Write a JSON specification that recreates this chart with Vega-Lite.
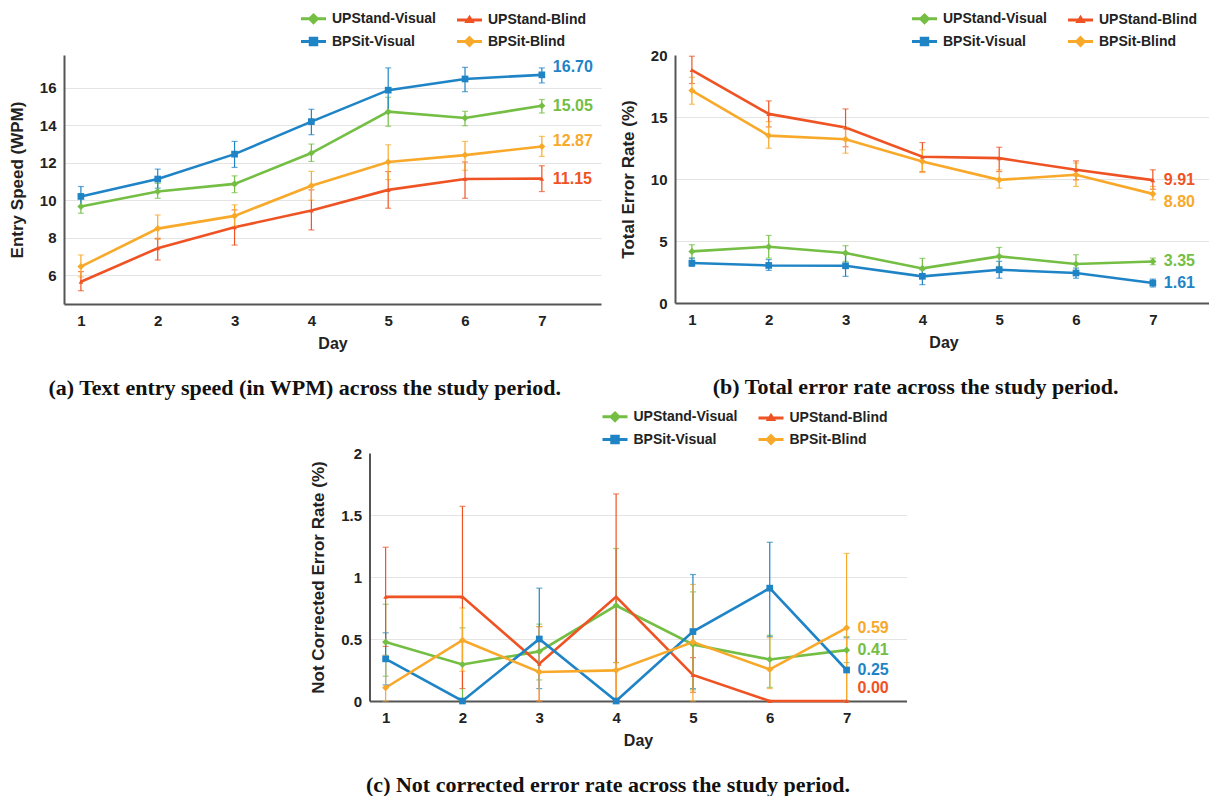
{
  "$schema": "https://vega.github.io/schema/vega-lite/v6.json",
  "padding": {"left": 8, "top": 8, "right": 0, "bottom": 0},
  "background": "white",
  "config": {
    "view": {"stroke": null},
    "font": "Liberation Sans",
    "axis": {"labelFont": "Liberation Sans", "labelFontWeight": "bold", "labelFontSize": 15, "labelColor": "#222", "titleFont": "Liberation Sans", "titleFontWeight": "bold", "titleFontSize": 16, "titleColor": "#222", "ticks": false, "domainColor": "#555", "domainWidth": 2, "gridColor": "#e4e4e4", "gridWidth": 1.2},
    "axisX": {"grid": false, "labelPadding": 9, "titlePadding": 7, "labelAngle": 0},
    "axisY": {"labelPadding": 8, "titlePadding": 13, "titleFontSize": 17},
    "legend": {"orient": "none", "legendX": 239, "legendY": -47, "columns": 2, "labelFont": "Liberation Sans", "labelFontWeight": "bold", "labelFontSize": 14, "labelColor": "#222", "symbolSize": 324, "labelOffset": 8, "columnPadding": 14, "rowPadding": 2, "padding": 0, "title": null},
    "title": {"font": "Liberation Serif", "fontSize": 22, "fontWeight": "bold", "color": "#111", "orient": "bottom", "anchor": "middle", "frame": "bounds", "offset": 27}
  },
  "datasets": {
    "a": [
      {"series": "UPStand-Visual", "day": 1, "mean": 9.66, "lo": 9.30, "hi": 10.25},
      {"series": "UPStand-Visual", "day": 2, "mean": 10.46, "lo": 10.10, "hi": 10.90},
      {"series": "UPStand-Visual", "day": 3, "mean": 10.87, "lo": 10.40, "hi": 11.30},
      {"series": "UPStand-Visual", "day": 4, "mean": 12.52, "lo": 12.07, "hi": 13.00},
      {"series": "UPStand-Visual", "day": 5, "mean": 14.73, "lo": 13.95, "hi": 15.50},
      {"series": "UPStand-Visual", "day": 6, "mean": 14.39, "lo": 13.98, "hi": 14.75},
      {"series": "UPStand-Visual", "day": 7, "mean": 15.05, "lo": 14.66, "hi": 15.38},
      {"series": "UPStand-Blind", "day": 1, "mean": 5.64, "lo": 5.16, "hi": 6.18},
      {"series": "UPStand-Blind", "day": 2, "mean": 7.43, "lo": 6.80, "hi": 7.96},
      {"series": "UPStand-Blind", "day": 3, "mean": 8.55, "lo": 7.60, "hi": 9.48},
      {"series": "UPStand-Blind", "day": 4, "mean": 9.45, "lo": 8.41, "hi": 10.55},
      {"series": "UPStand-Blind", "day": 5, "mean": 10.55, "lo": 9.57, "hi": 11.53},
      {"series": "UPStand-Blind", "day": 6, "mean": 11.13, "lo": 10.10, "hi": 12.04},
      {"series": "UPStand-Blind", "day": 7, "mean": 11.15, "lo": 10.46, "hi": 11.84},
      {"series": "BPSit-Visual", "day": 1, "mean": 10.20, "lo": 9.66, "hi": 10.73},
      {"series": "BPSit-Visual", "day": 2, "mean": 11.13, "lo": 10.64, "hi": 11.66},
      {"series": "BPSit-Visual", "day": 3, "mean": 12.46, "lo": 11.75, "hi": 13.14},
      {"series": "BPSit-Visual", "day": 4, "mean": 14.20, "lo": 13.50, "hi": 14.86},
      {"series": "BPSit-Visual", "day": 5, "mean": 15.88, "lo": 14.70, "hi": 17.07},
      {"series": "BPSit-Visual", "day": 6, "mean": 16.48, "lo": 15.80, "hi": 17.10},
      {"series": "BPSit-Visual", "day": 7, "mean": 16.70, "lo": 16.27, "hi": 17.07},
      {"series": "BPSit-Blind", "day": 1, "mean": 6.45, "lo": 5.90, "hi": 7.07},
      {"series": "BPSit-Blind", "day": 2, "mean": 8.48, "lo": 7.90, "hi": 9.21},
      {"series": "BPSit-Blind", "day": 3, "mean": 9.16, "lo": 8.60, "hi": 9.75},
      {"series": "BPSit-Blind", "day": 4, "mean": 10.77, "lo": 10.00, "hi": 11.54},
      {"series": "BPSit-Blind", "day": 5, "mean": 12.04, "lo": 11.10, "hi": 12.96},
      {"series": "BPSit-Blind", "day": 6, "mean": 12.41, "lo": 11.60, "hi": 13.14},
      {"series": "BPSit-Blind", "day": 7, "mean": 12.87, "lo": 12.34, "hi": 13.41}
    ],
    "b": [
      {"series": "UPStand-Visual", "day": 1, "mean": 4.16, "lo": 3.62, "hi": 4.70},
      {"series": "UPStand-Visual", "day": 2, "mean": 4.54, "lo": 3.62, "hi": 5.45},
      {"series": "UPStand-Visual", "day": 3, "mean": 4.03, "lo": 3.36, "hi": 4.62},
      {"series": "UPStand-Visual", "day": 4, "mean": 2.79, "lo": 2.15, "hi": 3.60},
      {"series": "UPStand-Visual", "day": 5, "mean": 3.76, "lo": 2.95, "hi": 4.48},
      {"series": "UPStand-Visual", "day": 6, "mean": 3.14, "lo": 2.42, "hi": 3.89},
      {"series": "UPStand-Visual", "day": 7, "mean": 3.35, "lo": 3.09, "hi": 3.62},
      {"series": "UPStand-Blind", "day": 1, "mean": 18.79, "lo": 17.70, "hi": 19.90},
      {"series": "UPStand-Blind", "day": 2, "mean": 15.25, "lo": 14.20, "hi": 16.30},
      {"series": "UPStand-Blind", "day": 3, "mean": 14.15, "lo": 12.60, "hi": 15.65},
      {"series": "UPStand-Blind", "day": 4, "mean": 11.80, "lo": 10.60, "hi": 12.94},
      {"series": "UPStand-Blind", "day": 5, "mean": 11.68, "lo": 10.60, "hi": 12.56},
      {"series": "UPStand-Blind", "day": 6, "mean": 10.74, "lo": 9.93, "hi": 11.46},
      {"series": "UPStand-Blind", "day": 7, "mean": 9.91, "lo": 9.18, "hi": 10.74},
      {"series": "BPSit-Visual", "day": 1, "mean": 3.22, "lo": 2.95, "hi": 3.62},
      {"series": "BPSit-Visual", "day": 2, "mean": 3.03, "lo": 2.63, "hi": 3.50},
      {"series": "BPSit-Visual", "day": 3, "mean": 3.00, "lo": 2.15, "hi": 4.03},
      {"series": "BPSit-Visual", "day": 4, "mean": 2.15, "lo": 1.48, "hi": 2.68},
      {"series": "BPSit-Visual", "day": 5, "mean": 2.68, "lo": 2.00, "hi": 3.36},
      {"series": "BPSit-Visual", "day": 6, "mean": 2.42, "lo": 2.00, "hi": 2.82},
      {"series": "BPSit-Visual", "day": 7, "mean": 1.61, "lo": 1.29, "hi": 1.93},
      {"series": "BPSit-Blind", "day": 1, "mean": 17.13, "lo": 16.03, "hi": 18.20},
      {"series": "BPSit-Blind", "day": 2, "mean": 13.50, "lo": 12.48, "hi": 14.63},
      {"series": "BPSit-Blind", "day": 3, "mean": 13.20, "lo": 12.08, "hi": 14.15},
      {"series": "BPSit-Blind", "day": 4, "mean": 11.41, "lo": 10.52, "hi": 12.35},
      {"series": "BPSit-Blind", "day": 5, "mean": 9.93, "lo": 9.26, "hi": 10.74},
      {"series": "BPSit-Blind", "day": 6, "mean": 10.34, "lo": 9.40, "hi": 11.28},
      {"series": "BPSit-Blind", "day": 7, "mean": 8.80, "lo": 8.32, "hi": 9.40}
    ],
    "c": [
      {"series": "UPStand-Visual", "day": 1, "mean": 0.475, "lo": 0.20, "hi": 0.78},
      {"series": "UPStand-Visual", "day": 2, "mean": 0.295, "lo": 0.01, "hi": 0.59},
      {"series": "UPStand-Visual", "day": 3, "mean": 0.40, "lo": 0.17, "hi": 0.62},
      {"series": "UPStand-Visual", "day": 4, "mean": 0.77, "lo": 0.31, "hi": 1.23},
      {"series": "UPStand-Visual", "day": 5, "mean": 0.456, "lo": 0.09, "hi": 0.88},
      {"series": "UPStand-Visual", "day": 6, "mean": 0.335, "lo": 0.11, "hi": 0.53},
      {"series": "UPStand-Visual", "day": 7, "mean": 0.41, "lo": 0.31, "hi": 0.52},
      {"series": "UPStand-Blind", "day": 1, "mean": 0.84, "lo": 0.44, "hi": 1.24},
      {"series": "UPStand-Blind", "day": 2, "mean": 0.84, "lo": 0.10, "hi": 1.57},
      {"series": "UPStand-Blind", "day": 3, "mean": 0.30, "lo": 0.00, "hi": 0.60},
      {"series": "UPStand-Blind", "day": 4, "mean": 0.84, "lo": 0.00, "hi": 1.67},
      {"series": "UPStand-Blind", "day": 5, "mean": 0.21, "lo": 0.07, "hi": 0.35},
      {"series": "UPStand-Blind", "day": 6, "mean": 0.0, "lo": 0.0, "hi": 0.0},
      {"series": "UPStand-Blind", "day": 7, "mean": 0.0, "lo": 0.0, "hi": 0.0},
      {"series": "BPSit-Visual", "day": 1, "mean": 0.34, "lo": 0.13, "hi": 0.55},
      {"series": "BPSit-Visual", "day": 2, "mean": 0.0, "lo": 0.0, "hi": 0.0},
      {"series": "BPSit-Visual", "day": 3, "mean": 0.50, "lo": 0.10, "hi": 0.91},
      {"series": "BPSit-Visual", "day": 4, "mean": 0.0, "lo": 0.0, "hi": 0.0},
      {"series": "BPSit-Visual", "day": 5, "mean": 0.56, "lo": 0.10, "hi": 1.02},
      {"series": "BPSit-Visual", "day": 6, "mean": 0.91, "lo": 0.52, "hi": 1.28},
      {"series": "BPSit-Visual", "day": 7, "mean": 0.25, "lo": 0.00, "hi": 0.51},
      {"series": "BPSit-Blind", "day": 1, "mean": 0.107, "lo": 0.00, "hi": 0.37},
      {"series": "BPSit-Blind", "day": 2, "mean": 0.49, "lo": 0.24, "hi": 0.75},
      {"series": "BPSit-Blind", "day": 3, "mean": 0.234, "lo": 0.00, "hi": 0.60},
      {"series": "BPSit-Blind", "day": 4, "mean": 0.247, "lo": 0.00, "hi": 0.31},
      {"series": "BPSit-Blind", "day": 5, "mean": 0.475, "lo": 0.00, "hi": 0.94},
      {"series": "BPSit-Blind", "day": 6, "mean": 0.255, "lo": 0.10, "hi": 0.51},
      {"series": "BPSit-Blind", "day": 7, "mean": 0.59, "lo": 0.00, "hi": 1.19}
    ]
  },
  "vconcat": [
    {
      "hconcat": [
        {
          "width": 537, "height": 249,
          "data": {"name": "a"},
          "title": {"text": "(a) Text entry speed (in WPM) across the study period."},
          "encoding": {
            "x": {"field": "day", "type": "quantitative", "scale": {"domain": [0.78, 7.77], "nice": false, "zero": false}, "axis": {"values": [1, 2, 3, 4, 5, 6, 7], "format": "d", "title": "Day"}},
            "y": {"field": "mean", "type": "quantitative", "scale": {"domain": [4.45, 17.76], "nice": false, "zero": false}, "axis": {"values": [6, 8, 10, 12, 14, 16], "title": "Entry Speed (WPM)"}},
            "color": {"field": "series", "type": "nominal", "scale": {"domain": ["UPStand-Visual", "BPSit-Visual", "UPStand-Blind", "BPSit-Blind"], "range": ["#74BE44", "#1F84C6", "#EF5323", "#F8A92A"]},
              "legend": {"encode": {"symbols": {"update": {
                "shape": {"signal": "datum.value === 'BPSit-Visual' ? 'M-1.39,0H1.39M-0.36,-0.36H0.36V0.36H-0.36Z' : datum.value === 'UPStand-Blind' ? 'M-1.39,0H1.39M0,-0.28L0.28,0.17L-0.28,0.17Z' : 'M-1.39,0H1.39M0,-0.42L0.42,0L0,0.42L-0.42,0Z'"},
                "fill": {"signal": "datum.value === 'UPStand-Visual' ? '#74BE44' : datum.value === 'UPStand-Blind' ? '#EF5323' : datum.value === 'BPSit-Visual' ? '#1F84C6' : '#F8A92A'"},
                "stroke": {"signal": "datum.value === 'UPStand-Visual' ? '#74BE44' : datum.value === 'UPStand-Blind' ? '#EF5323' : datum.value === 'BPSit-Visual' ? '#1F84C6' : '#F8A92A'"},
                "strokeWidth": {"value": 3}, "opacity": {"value": 1}, "fillOpacity": {"value": 1}, "strokeOpacity": {"value": 1}}}}}}
          },
          "layer": [
            {"mark": {"type": "line", "strokeWidth": 2.6}},
            {"mark": {"type": "errorbar", "ticks": {"size": 6}, "thickness": 1.2}, "encoding": {"y": {"field": "lo", "type": "quantitative"}, "y2": {"field": "hi"}}},
            {"transform": [{"filter": "datum.series === 'UPStand-Visual' || datum.series === 'BPSit-Blind'"}], "mark": {"type": "point", "shape": "diamond", "filled": true, "opacity": 1, "size": 50}},
            {"transform": [{"filter": "datum.series === 'BPSit-Visual'"}], "mark": {"type": "point", "shape": "square", "filled": true, "opacity": 1, "size": 45}},
            {"transform": [{"filter": "datum.series === 'UPStand-Blind'"}], "mark": {"type": "point", "shape": "triangle-up", "filled": true, "opacity": 1, "size": 22}},
            {"transform": [{"filter": "datum.day === 7 && (datum.series === 'UPStand-Visual' || datum.series === 'UPStand-Blind')"}], "mark": {"type": "text", "align": "left", "baseline": "middle", "dx": 11, "fontSize": 16, "fontWeight": "bold", "font": "Liberation Sans"}, "encoding": {"text": {"field": "mean", "type": "quantitative", "format": ".2f"}}},
            {"transform": [{"filter": "datum.day === 7 && datum.series === 'BPSit-Visual'"}], "mark": {"type": "text", "align": "left", "baseline": "middle", "dx": 11, "dy": -8, "fontSize": 16, "fontWeight": "bold", "font": "Liberation Sans"}, "encoding": {"text": {"field": "mean", "type": "quantitative", "format": ".2f"}}},
            {"transform": [{"filter": "datum.day === 7 && datum.series === 'BPSit-Blind'"}], "mark": {"type": "text", "align": "left", "baseline": "middle", "dx": 11, "dy": -5, "fontSize": 16, "fontWeight": "bold", "font": "Liberation Sans"}, "encoding": {"text": {"field": "mean", "type": "quantitative", "format": ".2f"}}}
          ]
        },
        {
          "width": 537, "height": 248,
          "data": {"name": "b"},
          "title": {"text": "(b) Total error rate across the study period."},
          "encoding": {
            "x": {"field": "day", "type": "quantitative", "scale": {"domain": [0.78, 7.77], "nice": false, "zero": false}, "axis": {"values": [1, 2, 3, 4, 5, 6, 7], "format": "d", "title": "Day"}},
            "y": {"field": "mean", "type": "quantitative", "scale": {"domain": [0, 20], "nice": false, "zero": false}, "axis": {"values": [0, 5, 10, 15, 20], "title": "Total Error Rate (%)", "gridOpacity": {"condition": {"test": "datum.value === 20", "value": 0}, "value": 1}}},
            "color": {"field": "series", "type": "nominal", "scale": {"domain": ["UPStand-Visual", "BPSit-Visual", "UPStand-Blind", "BPSit-Blind"], "range": ["#74BE44", "#1F84C6", "#EF5323", "#F8A92A"]},
              "legend": {"encode": {"symbols": {"update": {
                "shape": {"signal": "datum.value === 'BPSit-Visual' ? 'M-1.39,0H1.39M-0.36,-0.36H0.36V0.36H-0.36Z' : datum.value === 'UPStand-Blind' ? 'M-1.39,0H1.39M0,-0.28L0.28,0.17L-0.28,0.17Z' : 'M-1.39,0H1.39M0,-0.42L0.42,0L0,0.42L-0.42,0Z'"},
                "fill": {"signal": "datum.value === 'UPStand-Visual' ? '#74BE44' : datum.value === 'UPStand-Blind' ? '#EF5323' : datum.value === 'BPSit-Visual' ? '#1F84C6' : '#F8A92A'"},
                "stroke": {"signal": "datum.value === 'UPStand-Visual' ? '#74BE44' : datum.value === 'UPStand-Blind' ? '#EF5323' : datum.value === 'BPSit-Visual' ? '#1F84C6' : '#F8A92A'"},
                "strokeWidth": {"value": 3}, "opacity": {"value": 1}, "fillOpacity": {"value": 1}, "strokeOpacity": {"value": 1}}}}}}
          },
          "layer": [
            {"mark": {"type": "line", "strokeWidth": 2.6}},
            {"mark": {"type": "errorbar", "ticks": {"size": 6}, "thickness": 1.2}, "encoding": {"y": {"field": "lo", "type": "quantitative"}, "y2": {"field": "hi"}}},
            {"transform": [{"filter": "datum.series === 'UPStand-Visual' || datum.series === 'BPSit-Blind'"}], "mark": {"type": "point", "shape": "diamond", "filled": true, "opacity": 1, "size": 50}},
            {"transform": [{"filter": "datum.series === 'BPSit-Visual'"}], "mark": {"type": "point", "shape": "square", "filled": true, "opacity": 1, "size": 45}},
            {"transform": [{"filter": "datum.series === 'UPStand-Blind'"}], "mark": {"type": "point", "shape": "triangle-up", "filled": true, "opacity": 1, "size": 22}},
            {"transform": [{"filter": "datum.day === 7 && datum.series !== 'BPSit-Blind'"}], "mark": {"type": "text", "align": "left", "baseline": "middle", "dx": 11, "fontSize": 16, "fontWeight": "bold", "font": "Liberation Sans"}, "encoding": {"text": {"field": "mean", "type": "quantitative", "format": ".2f"}}},
            {"transform": [{"filter": "datum.day === 7 && datum.series === 'BPSit-Blind'"}], "mark": {"type": "text", "align": "left", "baseline": "middle", "dx": 11, "dy": 8, "fontSize": 16, "fontWeight": "bold", "font": "Liberation Sans"}, "encoding": {"text": {"field": "mean", "type": "quantitative", "format": ".2f"}}}
          ]
        }
      ],
      "spacing": 18,
      "resolve": {"scale": {"color": "independent"}, "legend": {"color": "independent"}}
    },
    {
      "width": 537, "height": 248,
      "data": {"name": "c"},
      "title": {"text": "(c) Not corrected error rate across the study period."},
      "encoding": {
        "x": {"field": "day", "type": "quantitative", "scale": {"domain": [0.79, 7.78], "nice": false, "zero": false}, "axis": {"values": [1, 2, 3, 4, 5, 6, 7], "format": "d", "title": "Day"}},
        "y": {"field": "mean", "type": "quantitative", "scale": {"domain": [0, 2], "nice": false, "zero": false}, "axis": {"values": [0, 0.5, 1, 1.5, 2], "format": "~g", "title": "Not Corrected Error Rate (%)", "gridOpacity": {"condition": {"test": "datum.value === 2", "value": 0}, "value": 1}}},
        "color": {"field": "series", "type": "nominal", "scale": {"domain": ["UPStand-Visual", "BPSit-Visual", "UPStand-Blind", "BPSit-Blind"], "range": ["#74BE44", "#1F84C6", "#EF5323", "#F8A92A"]},
          "legend": {"legendX": 235, "encode": {"symbols": {"update": {
            "shape": {"signal": "datum.value === 'BPSit-Visual' ? 'M-1.39,0H1.39M-0.36,-0.36H0.36V0.36H-0.36Z' : datum.value === 'UPStand-Blind' ? 'M-1.39,0H1.39M0,-0.28L0.28,0.17L-0.28,0.17Z' : 'M-1.39,0H1.39M0,-0.42L0.42,0L0,0.42L-0.42,0Z'"},
            "fill": {"signal": "datum.value === 'UPStand-Visual' ? '#74BE44' : datum.value === 'UPStand-Blind' ? '#EF5323' : datum.value === 'BPSit-Visual' ? '#1F84C6' : '#F8A92A'"},
            "stroke": {"signal": "datum.value === 'UPStand-Visual' ? '#74BE44' : datum.value === 'UPStand-Blind' ? '#EF5323' : datum.value === 'BPSit-Visual' ? '#1F84C6' : '#F8A92A'"},
            "strokeWidth": {"value": 3}, "opacity": {"value": 1}, "fillOpacity": {"value": 1}, "strokeOpacity": {"value": 1}}}}}}
      },
      "layer": [
        {"mark": {"type": "line", "strokeWidth": 2.6}},
        {"mark": {"type": "errorbar", "ticks": {"size": 6}, "thickness": 1.2}, "encoding": {"y": {"field": "lo", "type": "quantitative"}, "y2": {"field": "hi"}}},
        {"transform": [{"filter": "datum.series === 'UPStand-Visual' || datum.series === 'BPSit-Blind'"}], "mark": {"type": "point", "shape": "diamond", "filled": true, "opacity": 1, "size": 50}},
        {"transform": [{"filter": "datum.series === 'BPSit-Visual'"}], "mark": {"type": "point", "shape": "square", "filled": true, "opacity": 1, "size": 45}},
        {"transform": [{"filter": "datum.series === 'UPStand-Blind'"}], "mark": {"type": "point", "shape": "triangle-up", "filled": true, "opacity": 1, "size": 22}},
        {"transform": [{"filter": "datum.day === 7 && datum.series !== 'UPStand-Blind'"}], "mark": {"type": "text", "align": "left", "baseline": "middle", "dx": 11, "fontSize": 16, "fontWeight": "bold", "font": "Liberation Sans"}, "encoding": {"text": {"field": "mean", "type": "quantitative", "format": ".2f"}}},
        {"transform": [{"filter": "datum.day === 7 && datum.series === 'UPStand-Blind'"}], "mark": {"type": "text", "align": "left", "baseline": "middle", "dx": 11, "dy": -13, "fontSize": 16, "fontWeight": "bold", "font": "Liberation Sans"}, "encoding": {"text": {"field": "mean", "type": "quantitative", "format": ".2f"}}}
      ]
    }
  ],
  "spacing": 7,
  "center": true,
  "resolve": {"scale": {"color": "independent"}, "legend": {"color": "independent"}}
}
